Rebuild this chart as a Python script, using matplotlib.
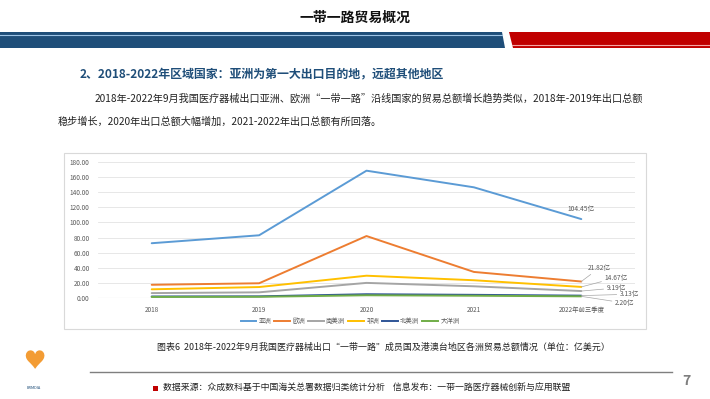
import matplotlib
matplotlib.use("Agg")
import matplotlib.pyplot as plt
from matplotlib.patches import Rectangle, Polygon
from matplotlib.lines import Line2D

plt.rcParams['font.family'] = ['Noto Sans CJK SC', 'DejaVu Sans']

categories = ["2018", "2019", "2020", "2021", "2022年前三季度"]
series_names = ["亚洲", "欧洲", "南美洲", "非洲", "北美洲", "大洋洲"]
asia = [72.5, 83.0, 168.5, 146.5, 104.45]
europe = [17.5, 19.5, 82.0, 34.5, 21.82]
south_america = [6.5, 7.5, 20.0, 15.5, 9.19]
africa = [11.5, 14.5, 29.5, 23.5, 14.67]
north_america = [2.0, 2.2, 5.0, 4.2, 3.13]
oceania = [1.4, 1.6, 3.6, 3.0, 2.20]
end_labels = ["104.45亿", "21.82亿", "9.19亿", "14.67亿", "3.13亿", "2.20亿"]
yticks = [0, 20, 40, 60, 80, 100, 120, 140, 160, 180]

colors = ["#5B9BD5", "#ED7D31", "#A5A5A5", "#FFC000", "#2F5597", "#70AD47"]
all_series = [asia, europe, south_america, africa, north_america, oceania]

W, H = 710, 399
fig = plt.figure(figsize=(W / 100, H / 100), dpi=100)
fig.patch.set_facecolor("white")

def fx(x):
    return x / W

def fy(y):
    return 1 - y / H

# Header
fig.text(fx(355), fy(18), "一带一路贸易概况", ha="center", va="center",
         fontsize=10, fontweight="bold", color="#111111")
fig.patches.append(Polygon([(fx(0), fy(32)), (fx(502), fy(32)), (fx(505), fy(48)), (fx(0), fy(48))],
                           closed=True, transform=fig.transFigure, facecolor="#1F4E79", edgecolor="none"))
fig.add_artist(Line2D([fx(0), fx(502)], [fy(35), fy(35)], color="#9DC3E6", lw=0.8))
fig.patches.append(Polygon([(fx(509), fy(32)), (fx(710), fy(32)), (fx(710), fy(48)), (fx(513), fy(48))],
                           closed=True, transform=fig.transFigure, facecolor="#C00000", edgecolor="none"))
fig.add_artist(Line2D([fx(512), fx(710)], [fy(45), fy(45)], color="#F4A6A6", lw=0.8))

# Heading and body
fig.text(fx(80), fy(74), "2、2018-2022年区域国家：亚洲为第一大出口目的地，远超其他地区",
         ha="left", va="center", fontsize=8.6, fontweight="bold", color="#1F4E79")
fig.text(fx(95), fy(99),
         "2018年-2022年9月我国医疗器械出口亚洲、欧洲“一带一路”沿线国家的贸易总额增长趋势类似，2018年-2019年出口总额",
         ha="left", va="center", fontsize=7.3, color="#222222")
fig.text(fx(58), fy(122), "稳步增长，2020年出口总额大幅增加，2021-2022年出口总额有所回落。",
         ha="left", va="center", fontsize=7.3, color="#222222")

# Chart box
box = Rectangle((fx(64), fy(329)), fx(646) - fx(64), fy(153) - fy(329),
                transform=fig.transFigure, facecolor="white", edgecolor="#D9D9D9", lw=0.8, zorder=-5)
fig.patches.append(box)

ax = fig.add_axes([fx(98), fy(298), fx(635) - fx(98), fy(162) - fy(298)])
ax.set_zorder(2)
ax.set_facecolor("none")
x = list(range(len(categories)))
for name, vals, c in zip(series_names, all_series, colors):
    ax.plot(x, vals, color=c, lw=1.4, label=name, solid_capstyle="round")
ax.set_xlim(-0.5, len(categories) - 0.5)
ax.set_ylim(0, 180)
ax.set_yticks(yticks)
ax.set_yticklabels([f"{v:.2f}" for v in yticks], fontsize=4.6, color="#595959")
ax.set_xticks(x)
ax.set_xticklabels(categories, fontsize=4.6, color="#595959")
ax.tick_params(length=0, pad=6)
ax.grid(axis="y", color="#E3E3E3", lw=0.6)
ax.set_axisbelow(True)
for s in ax.spines.values():
    s.set_visible(False)
ax.axhline(0, color="#D0D0D0", lw=0.8, zorder=0.5)

# End labels with leader lines (offsets in points)
last = len(categories) - 1
offsets = {"104.45亿": (0, 7.5), "21.82亿": (5, 10), "14.67亿": (16.5, 6.5),
           "9.19亿": (18, 2.2), "3.13亿": (27.5, 1.0), "2.20亿": (24, -4.8)}
for vals, lab in zip(all_series, end_labels):
    off = offsets[lab]
    if lab == "104.45亿":
        ax.annotate(lab, (last, vals[last]), xytext=off, textcoords="offset points",
                    fontsize=4.8, color="#595959", ha="center", va="center")
    else:
        ax.annotate(lab, (last, vals[last]), xytext=off, textcoords="offset points",
                    fontsize=4.8, color="#595959", ha="left", va="center",
                    arrowprops=dict(arrowstyle="-", color="#A6A6A6", lw=0.5,
                                    shrinkA=0, shrinkB=0))

handles = [Line2D([0], [0], color=c, lw=1.4) for c in colors]
fig.legend(handles, series_names, loc="center", bbox_to_anchor=(fx(350), fy(321)),
           ncol=6, fontsize=4.6, frameon=False, handlelength=2.4, handletextpad=0.4,
           columnspacing=0.5, labelcolor="#595959")

# Caption
fig.text(fx(383), fy(347),
         "图表6  2018年-2022年9月我国医疗器械出口“一带一路”成员国及港澳台地区各洲贸易总额情况（单位：亿美元）",
         ha="center", va="center", fontsize=6.45, color="#222222")

# Footer
fig.add_artist(Line2D([fx(90), fx(672)], [fy(372), fy(372)], color="#7F7F7F", lw=1.0))
fig.text(fx(686), fy(381), "7", ha="center", va="center", fontsize=10, fontweight="bold", color="#7F7F7F")
fig.patches.append(Rectangle((fx(153), fy(391)), fx(5) - fx(0), fy(0) - fy(5),
                             transform=fig.transFigure, facecolor="#C00000", edgecolor="none"))
fig.text(fx(163), fy(388), "数据来源：众成数科基于中国海关总署数据归类统计分析    信息发布：一带一路医疗器械创新与应用联盟",
         ha="left", va="center", fontsize=6.4, color="#222222")

# Logo (approximation)
fig.text(fx(34), fy(362), "♥", ha="center", va="center", fontsize=16, color="#F39C34")
fig.text(fx(34), fy(388), "BRMDIA", ha="center", va="center", fontsize=2.8, color="#1F4E79")

fig.savefig("out.png", dpi=100, facecolor="white")
